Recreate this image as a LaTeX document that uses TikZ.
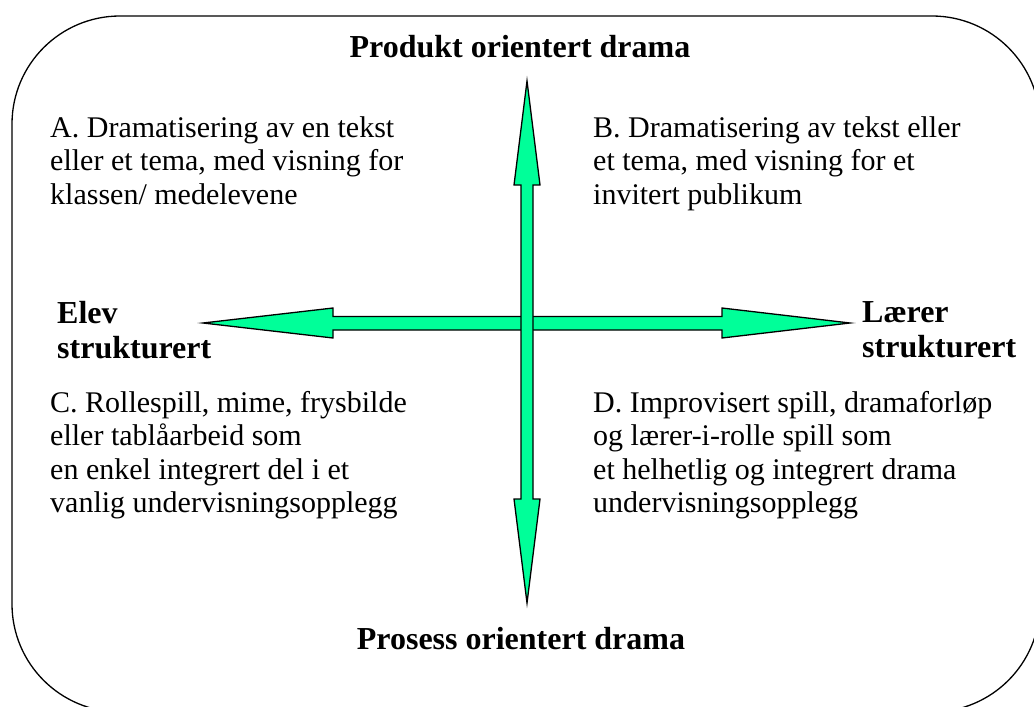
\documentclass[tikz,border=0pt]{standalone}
\usepackage{fontspec}
\setmainfont{Liberation Serif}
\usepackage{xcolor}
\definecolor{arrowgreen}{RGB}{0,255,153}
\tikzset{
  quadrant/.style={anchor=north west, inner sep=0pt, align=left,
    font=\fontsize{30}{33.5}\selectfont},
  axislabel/.style={inner sep=0pt, align=left,
    font=\fontsize{32}{35}\selectfont\bfseries},
  axisarrow/.style={draw=black, line width=1.3pt, fill=arrowgreen, line join=miter}
}

\begin{document}
\begin{tikzpicture}[x=1pt, y=-1pt]
  \useasboundingbox (0,0) rectangle (1034,707);
  \draw[line width=1.3pt, rounded corners=108pt] (12,16) rectangle (1040,712);
  \filldraw[axisarrow] (203,323) -- (333,308) -- (333,316.5) -- (722,316.5)
    -- (722,308) -- (850,323) -- (722,338) -- (722,330) -- (333,330)
    -- (333,338) -- cycle;
  \filldraw[axisarrow] (527,81) -- (540,185) -- (533,185) -- (533,499)
    -- (540,499) -- (527,603) -- (514,499) -- (521,499) -- (521,185)
    -- (514,185) -- cycle;
  \node[axislabel, anchor=north] (produkt) at (520,35) {Produkt orientert drama};
  \node[axislabel, anchor=north] (prosess) at (521,627) {Prosess orientert drama};
  \node[axislabel, anchor=north west] (elev) at (57,301) {Elev\\strukturert};
  \node[axislabel, anchor=north west] (laerer) at (862,301) {Lærer\\strukturert};
  \node[quadrant] (qa) at (50,116) {A. Dramatisering av en tekst\\eller et tema, med visning for\\klassen/ medelevene};
  \node[quadrant] (qb) at (593,116) {B. Dramatisering av tekst eller\\et tema, med visning for et\\invitert publikum};
  \node[quadrant] (qc) at (50,391) {C. Rollespill, mime, frysbilde\\eller tablåarbeid som\\en enkel integrert del i et\\vanlig undervisningsopplegg};
  \node[quadrant] (qd) at (593,391) {D. Improvisert spill, dramaforløp\\og lærer-i-rolle spill som\\et helhetlig og integrert drama\\undervisningsopplegg};
\end{tikzpicture}
\end{document}
